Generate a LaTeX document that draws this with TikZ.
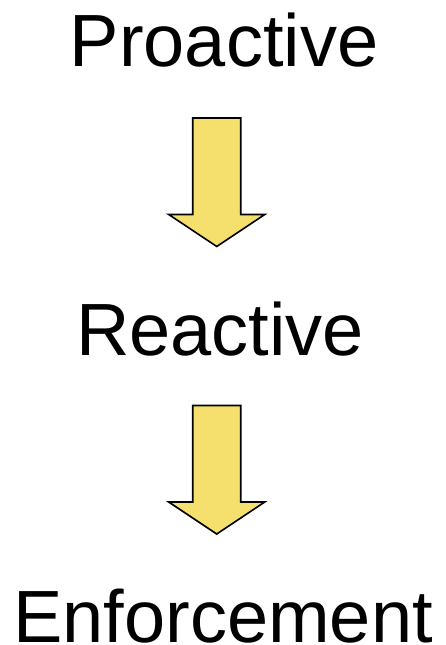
\documentclass[tikz,border=0pt]{standalone}
\usepackage{fontspec}
\setmainfont{Liberation Sans}
\usepackage{xcolor}
\usetikzlibrary{positioning}

\definecolor{arrowyellow}{RGB}{245,224,110}

\begin{document}
\begin{tikzpicture}[x=1pt,y=-1pt,
    stage/.style={anchor=base,inner sep=0pt,text depth=0pt,font=\fontsize{74}{74}\selectfont},
    bigarrow/.style={draw=black,fill=arrowyellow,line width=1.6pt,line join=miter}]
    \useasboundingbox (0,0) rectangle (445,645);

    \node[stage] (proactive) at (224,66) {Proactive};
    \node[stage] (reactive) at (220,355) {Reactive};
    \node[stage] (enforcement) at (223,642.5) {Enforcement};

    % block arrows between the stages
    \coordinate (a1) at (216.7,118);
    \coordinate (a2) at (216.7,405.5);
    \foreach \a in {a1,a2}
        \draw[bigarrow] (\a) ++(-24,0) -- ++(48,0) -- ++(0,96.5) -- ++(24,0)
            -- ++(-48,32) -- ++(-48,-32) -- ++(24,0) -- cycle;
\end{tikzpicture}
\end{document}
